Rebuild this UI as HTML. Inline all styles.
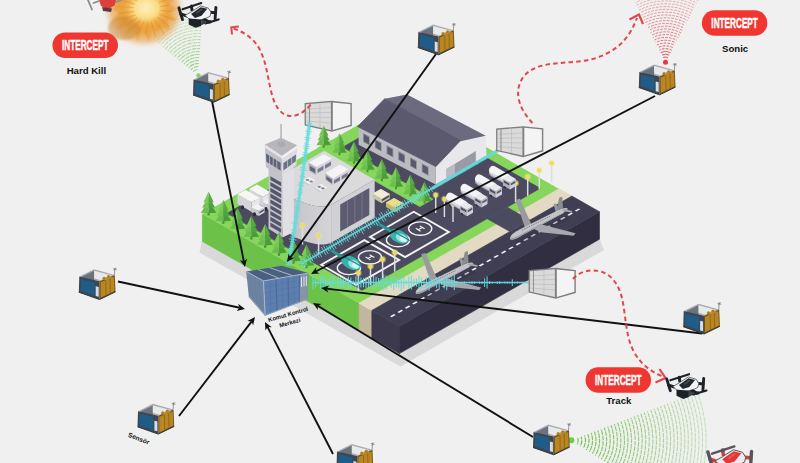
<!DOCTYPE html>
<html><head><meta charset="utf-8"><title>Counter-drone base defence diagram</title>
<style>
html,body{margin:0;padding:0;background:#f0f0f0;}
body{width:800px;height:463px;overflow:hidden;font-family:"Liberation Sans",sans-serif;}
svg{display:block}
text{font-family:"Liberation Sans",sans-serif;}
</style></head><body>
<svg width="800" height="463" viewBox="0 0 800 463">
<rect width="800" height="463" fill="#f0f0f0"/>
<defs>
<g id="tree">
 <rect x="-1" y="-2.5" width="2" height="3.2" fill="#4a8f3a"/>
 <polygon points="-7.3,-2 0,-12.5 0,-1.4" fill="#6cbd4e"/><polygon points="7.3,-2 0,-12.5 0,-1.4" fill="#4b9c39"/>
 <polygon points="-6.1,-6.8 0,-17 0,-6.2" fill="#74c455"/><polygon points="6.1,-6.8 0,-17 0,-6.2" fill="#51a33d"/>
 <polygon points="-4.7,-11.6 0,-21.5 0,-11" fill="#7cca5c"/><polygon points="4.7,-11.6 0,-21.5 0,-11" fill="#57a941"/>
</g>
<g id="lamp">
 <rect x="-0.75" y="-18.5" width="1.5" height="18.5" fill="#dedee2"/>
 <circle cx="0" cy="-19" r="3.3" fill="#f2ea8c" opacity="0.45"/>
 <circle cx="0" cy="-19" r="2.3" fill="#ecdc60"/>
</g>
<g id="sensor">
 <polygon points="0.5,7.4 15.3,0 36,5.8 20.8,12" fill="#a9adb3"/>
 <polygon points="3,7.6 15.3,1.6 15.3,12 8,14" fill="#6c737c"/>
 <polygon points="15.3,1.6 33,6.3 22,11 15.3,9" fill="#e9e9e9"/>
 <polygon points="0.5,7.4 20.8,12 20.8,30.3 0,23" fill="#3c4753"/>
 <polygon points="2.2,10 15.8,13.2 15.8,26.4 2,21.6" fill="#1f5c88"/>
 <polygon points="16.9,17 19.9,17.8 19.9,27.5 16.9,26.7" fill="#d9dde0"/>
 <polygon points="20.8,12 36,5.8 36.7,22.6 20.8,30.3" fill="#6b4f1c"/>
 <polygon points="21.8,13 35.2,7.6 35.8,21.8 21.8,28.6" fill="#b98622"/>
 <path d="M27,11.2 L27.2,26.2 M31.2,9.4 L31.5,24" stroke="#8e6518" stroke-width="0.9" fill="none"/>
 <polygon points="23,10 30,6.8 34,8 27,11" fill="#c2912f"/><circle cx="25.2" cy="9" r="1.5" fill="#b07e24"/><circle cx="29.8" cy="7.3" r="1.6" fill="#b07e24"/>
 <path d="M35.5,6 L36.2,-1.5 M34.2,-0.5 L38,0.6 M35,1.6 L37.4,-1.4" stroke="#7b8088" stroke-width="0.8" fill="none"/>
 <path d="M0,23 L20.8,30.3 L36.7,22.6" stroke="#2e3640" stroke-width="1" fill="none"/>
</g>
<g id="cont">
 <polygon points="0.6,3.1 27.8,0.8 47.8,2.9 47.8,26 27.8,31.8 0.6,25.5" fill="#7f7f7f"/>
 <polygon points="1.9,4.3 26.9,2.3 26.9,30.1 1.9,24.5" fill="#dadada"/>
 <polygon points="28.8,2.4 46.4,4.2 46.4,24.8 28.8,30" fill="#f4f4f4"/>
 <path d="M5.5,4.5 L5.5,25 M2,9 L27,7.6 M2,13 L27,12.4 M2,17 L27,17.6 M2,21 L27,23 M16,3.4 L16,27.5" stroke="#bdbdbd" stroke-width="0.7" fill="none"/>
 <path d="M5.5,4 L5.5,25.4" stroke="#8c8c8c" stroke-width="0.9"/>
</g>
<g id="tanker">
 <path d="M6.2,8.2 L19.5,15.8" stroke="#b4b4c0" stroke-width="8" stroke-linecap="round"/>
 <path d="M6.2,5.6 L19.5,13.2" stroke="#f4f4f7" stroke-width="8.2" stroke-linecap="round"/>
 <path d="M5.2,9.4 L18.5,17" stroke="#d9d9e0" stroke-width="2.2" stroke-linecap="round"/>
 <polygon points="16,14.2 22,10.6 29,14.6 23,18.2" fill="#e8e8ec"/>
 <polygon points="16,14.2 23,18.2 23,25 16,21" fill="#b2b2bc"/>
 <polygon points="23,18.2 29,14.6 29,21.4 23,25" fill="#d0d0d8"/>
 <polygon points="16.8,15.8 22.2,18.9 22.2,21 16.8,17.9" fill="#4d4d62"/>
 <polygon points="23.7,19 28.3,16.3 28.3,18.4 23.7,21.1" fill="#5a5a70"/>
 <polygon points="17,21.4 19,22.5 19,24.2 17,23.1" fill="#2c2a38"/><polygon points="5,13.4 7,14.6 7,16.4 5,15.2" fill="#2c2a38"/>
</g>
<linearGradient id="gcyl" gradientUnits="userSpaceOnUse" x1="278" x2="332" y1="0" y2="0"><stop offset="0" stop-color="#b4b4ba"/><stop offset="0.45" stop-color="#c9c9ce"/><stop offset="1" stop-color="#d4d4d8"/></linearGradient><radialGradient id="gex" cx="0.5" cy="0.5" r="0.5"><stop offset="0" stop-color="#f5bc58"/><stop offset="0.6" stop-color="#eba744" stop-opacity="0.95"/><stop offset="0.82" stop-color="#e9a858" stop-opacity="0.6"/><stop offset="1" stop-color="#f0c89c" stop-opacity="0"/></radialGradient>
<radialGradient id="gex2" cx="0.5" cy="0.5" r="0.5"><stop offset="0" stop-color="#fdf0c0"/><stop offset="0.55" stop-color="#fbdc86"/><stop offset="1" stop-color="#f6b648" stop-opacity="0"/></radialGradient>
<filter id="blur1" x="-20%" y="-20%" width="140%" height="140%"><feGaussianBlur stdDeviation="1.3"/></filter></defs>
<polygon points="202.0,240.0 399.4,353.0 599.5,238.5 604.0,250.0 400.5,366.5 199.5,252.5" fill="#d9d9d9" />
<polygon points="202.3,214.0 359.0,303.2 359.0,330.6 202.3,241.4" fill="#6cc148" stroke="#6cc148" stroke-width="0.6"/>
<polygon points="359.0,303.2 371.8,310.5 371.8,337.9 359.0,330.6" fill="#c2b69c" stroke="#c2b69c" stroke-width="0.6"/>
<polygon points="371.8,310.5 399.4,326.2 399.4,353.6 371.8,337.9" fill="#3b394b" stroke="#3b394b" stroke-width="0.6"/>
<polygon points="399.4,326.2 599.5,211.8 599.5,239.2 399.4,353.6" fill="#302e40" stroke="#302e40" stroke-width="0.6"/>
<polygon points="202.3,214.0 360.0,303.8 560.1,189.4 402.4,99.6" fill="#86d65c" />
<polygon points="227.1,213.3 362.1,290.2 540.2,188.3 405.2,111.5" fill="#4c4a5e" stroke="#4c4a5e" stroke-width="0.7" stroke-linejoin="round"/>
<polygon points="317.4,148.2 419.8,206.6 432.9,199.1 330.4,140.8" fill="#86d65c" stroke="#86d65c" stroke-width="0.7" stroke-linejoin="round"/>
<polygon points="359.0,303.2 371.8,310.5 571.9,196.1 559.1,188.8" fill="#e2dac2" stroke="#e2dac2" stroke-width="0.7" stroke-linejoin="round"/>
<polygon points="371.8,310.5 399.4,326.2 599.5,211.8 571.9,196.1" fill="#403e52" stroke="#403e52" stroke-width="0.7" stroke-linejoin="round"/>
<polygon points="487.2,218.7 509.9,231.6 529.9,220.1 507.2,207.2" fill="#4c4a5e" stroke="#4c4a5e" stroke-width="0.7" stroke-linejoin="round"/>
<polygon points="390.0,316.3 391.6,317.2 395.6,314.9 394.0,314.0" fill="#f2f2f2" />
<polygon points="397.4,312.1 399.0,313.0 403.0,310.7 401.4,309.8" fill="#f2f2f2" />
<polygon points="404.8,307.8 406.4,308.7 410.4,306.4 408.8,305.5" fill="#f2f2f2" />
<polygon points="412.2,303.6 413.7,304.5 417.7,302.2 416.2,301.3" fill="#f2f2f2" />
<polygon points="419.6,299.4 421.1,300.3 425.1,298.0 423.6,297.1" fill="#f2f2f2" />
<polygon points="426.9,295.2 428.5,296.1 432.5,293.8 430.9,292.9" fill="#f2f2f2" />
<polygon points="434.3,290.9 435.9,291.8 439.9,289.5 438.3,288.7" fill="#f2f2f2" />
<polygon points="441.7,286.7 443.3,287.6 447.3,285.3 445.7,284.4" fill="#f2f2f2" />
<polygon points="449.1,282.5 450.7,283.4 454.7,281.1 453.1,280.2" fill="#f2f2f2" />
<polygon points="456.5,278.3 458.1,279.2 462.1,276.9 460.5,276.0" fill="#f2f2f2" />
<polygon points="463.9,274.0 465.5,274.9 469.5,272.7 467.9,271.8" fill="#f2f2f2" />
<polygon points="471.3,269.8 472.8,270.7 476.8,268.4 475.3,267.5" fill="#f2f2f2" />
<polygon points="478.7,265.6 480.2,266.5 484.2,264.2 482.7,263.3" fill="#f2f2f2" />
<polygon points="486.0,261.4 487.6,262.3 491.6,260.0 490.0,259.1" fill="#f2f2f2" />
<polygon points="493.4,257.1 495.0,258.0 499.0,255.8 497.4,254.9" fill="#f2f2f2" />
<polygon points="500.8,252.9 502.4,253.8 506.4,251.5 504.8,250.6" fill="#f2f2f2" />
<polygon points="508.2,248.7 509.8,249.6 513.8,247.3 512.2,246.4" fill="#f2f2f2" />
<polygon points="515.6,244.5 517.2,245.4 521.2,243.1 519.6,242.2" fill="#f2f2f2" />
<polygon points="523.0,240.3 524.6,241.1 528.6,238.9 527.0,238.0" fill="#f2f2f2" />
<polygon points="530.4,236.0 532.0,236.9 536.0,234.6 534.4,233.7" fill="#f2f2f2" />
<polygon points="537.8,231.8 539.3,232.7 543.3,230.4 541.8,229.5" fill="#f2f2f2" />
<polygon points="545.2,227.6 546.7,228.5 550.7,226.2 549.2,225.3" fill="#f2f2f2" />
<polygon points="552.5,223.4 554.1,224.3 558.1,222.0 556.5,221.1" fill="#f2f2f2" />
<polygon points="559.9,219.1 561.5,220.0 565.5,217.7 563.9,216.8" fill="#f2f2f2" />
<polygon points="567.3,214.9 568.9,215.8 572.9,213.5 571.3,212.6" fill="#f2f2f2" />
<polygon points="574.7,210.7 576.3,211.6 580.3,209.3 578.7,208.4" fill="#f2f2f2" />
<use href="#cont" x="304" y="100"/>
<polygon points="358.6,126.0 435.7,165.7 435.7,184.6 358.6,144.8" fill="#bbbbc2" />
<polygon points="363.0,133.0 369.8,136.5 369.8,145.5 363.0,142.0" fill="#8e8e9c" />
<polygon points="363.9,134.3 369.0,137.5 369.0,144.5 363.9,141.3" fill="#58586e" />
<polygon points="374.8,139.0 381.6,142.5 381.6,151.5 374.8,148.0" fill="#8e8e9c" />
<polygon points="375.6,140.3 380.8,143.5 380.8,150.5 375.6,147.3" fill="#58586e" />
<polygon points="386.5,145.1 393.3,148.6 393.3,157.6 386.5,154.1" fill="#8e8e9c" />
<polygon points="387.4,146.4 392.5,149.6 392.5,156.6 387.4,153.4" fill="#58586e" />
<polygon points="398.2,151.1 405.1,154.6 405.1,163.6 398.2,160.1" fill="#8e8e9c" />
<polygon points="399.1,152.4 404.2,155.6 404.2,162.6 399.1,159.4" fill="#58586e" />
<polygon points="410.0,157.2 416.8,160.7 416.8,169.7 410.0,166.2" fill="#8e8e9c" />
<polygon points="410.9,158.5 416.0,161.7 416.0,168.7 410.9,165.5" fill="#58586e" />
<polygon points="421.8,163.2 428.6,166.7 428.6,175.7 421.8,172.2" fill="#8e8e9c" />
<polygon points="422.6,164.5 427.8,167.7 427.8,174.7 422.6,171.5" fill="#58586e" />
<polygon points="435.7,165.7 460.5,140.2 485.6,136.4 486.6,156.0 435.7,184.6" fill="#e7e7ec" />
<polygon points="446.5,169.0 475.8,151.0 475.8,161.8 446.5,179.0" fill="#9a9aa4" />
<polygon points="446.5,169.0 455.0,164.0 455.0,174.0 446.5,179.0" fill="#b9b9c2" />
<polygon points="384.7,98.7 407.0,94.6 485.8,135.8 460.5,141.2" fill="#6b6a7e" />
<polygon points="357.6,126.6 384.7,98.7 460.5,140.6 435.9,166.6" fill="#5a596d" stroke="#5a596d" stroke-width="0.8"/>
<use href="#tree" transform="translate(323.7,147.0) scale(1.0)"/>
<use href="#tree" transform="translate(339.5,154.5) scale(1.0)"/>
<use href="#tree" transform="translate(353.9,163.0) scale(1.0)"/>
<use href="#tree" transform="translate(367.5,171.5) scale(1.0)"/>
<use href="#tree" transform="translate(381.8,180.5) scale(1.0)"/>
<use href="#tree" transform="translate(396.0,188.5) scale(1.0)"/>
<use href="#tree" transform="translate(410.3,196.0) scale(1.0)"/>
<use href="#tree" transform="translate(424.5,203.0) scale(1.0)"/>
<polygon points="249.0,189.0 263.0,197.0 263.0,206.5 249.0,198.5" fill="#d4d4da" /><polygon points="249.0,189.0 257.0,184.5 271.0,192.5 263.0,197.0" fill="#f6f6f6" /><polygon points="263.0,197.0 271.0,192.5 271.0,202.0 263.0,206.5" fill="#e6e6ea" /><polygon points="263.0,202.0 270.0,205.7 270.0,210.6 263.0,207.0" fill="#c9c9cf" /><polygon points="263.0,202.0 269.0,198.4 276.0,202.2 270.0,205.7" fill="#f2f2f2" /><polygon points="270.0,205.7 276.0,202.2 276.0,207.2 270.0,210.6" fill="#e2e2e6" /><polygon points="270.8,206.4 275.4,203.7 275.4,205.8 270.8,208.5" fill="#50506a" /><ellipse cx="254" cy="202" rx="1.5" ry="2" fill="#2c2a38"/><ellipse cx="266" cy="209" rx="1.5" ry="2" fill="#2c2a38"/>
<polygon points="237.5,194.3 251.5,202.3 251.5,211.8 237.5,203.8" fill="#d4d4da" /><polygon points="237.5,194.3 245.5,189.8 259.5,197.8 251.5,202.3" fill="#f6f6f6" /><polygon points="251.5,202.3 259.5,197.8 259.5,207.3 251.5,211.8" fill="#e6e6ea" /><polygon points="251.5,207.3 258.5,211.0 258.5,215.9 251.5,212.3" fill="#c9c9cf" /><polygon points="251.5,207.3 257.5,203.7 264.5,207.5 258.5,211.0" fill="#f2f2f2" /><polygon points="258.5,211.0 264.5,207.5 264.5,212.5 258.5,215.9" fill="#e2e2e6" /><polygon points="259.3,211.7 263.9,209.0 263.9,211.1 259.3,213.8" fill="#50506a" /><ellipse cx="242.5" cy="207.3" rx="1.5" ry="2" fill="#2c2a38"/><ellipse cx="254.5" cy="214.3" rx="1.5" ry="2" fill="#2c2a38"/>
<polygon points="331.9,204.3 330.2,205.2 328.1,205.8 325.9,206.2 323.3,206.4 320.6,206.4 317.7,206.2 314.6,205.7 311.5,205.1 308.3,204.3 305.0,203.3 301.8,202.1 298.7,200.8 295.6,199.4 292.7,197.8 290.0,196.1 287.4,194.4 285.1,192.5 283.1,190.7 281.4,188.8 280.0,187.0 278.9,185.2 278.2,183.4 277.8,181.8 277.8,180.2 278.2,178.7 278.9,177.4 280.0,176.3 281.4,175.3 281.4,213.3 280.0,214.3 278.9,215.4 278.2,216.7 277.8,218.2 277.8,219.8 278.2,221.4 278.9,223.2 280.0,225.0 281.4,226.8 283.1,228.7 285.1,230.5 287.4,232.4 290.0,234.1 292.7,235.8 295.6,237.4 298.7,238.8 301.8,240.1 305.0,241.3 308.3,242.3 311.5,243.1 314.6,243.7 317.7,244.2 320.6,244.4 323.3,244.4 325.9,244.2 328.1,243.8 330.2,243.2 331.9,242.3" fill="url(#gcyl)"/>
<polygon points="331.9,204.3 374.7,179.8 374.7,217.8 331.9,242.3" fill="#d0d0d5" />
<polygon points="340.2,204.6 369.3,187.9 369.3,214.9 340.2,231.6" fill="#5c5b70" />
<line x1="347.5" y1="200.4" x2="347.5" y2="227.4" stroke="#7c7b8e" stroke-width="0.8"/>
<line x1="354.8" y1="196.2" x2="354.8" y2="223.2" stroke="#7c7b8e" stroke-width="0.8"/>
<line x1="362.0" y1="192.1" x2="362.0" y2="219.1" stroke="#7c7b8e" stroke-width="0.8"/>
<polygon points="324.2,150.8 374.7,179.8 331.9,204.3 330.2,205.2 328.1,205.8 325.9,206.2 323.3,206.4 320.6,206.4 317.7,206.2 314.6,205.7 311.5,205.1 308.3,204.3 305.0,203.3 301.8,202.1 298.7,200.8 295.6,199.4 292.7,197.8 290.0,196.1 287.4,194.4 285.1,192.5 283.1,190.7 281.4,188.8 280.0,187.0 278.9,185.2 278.2,183.4 277.8,181.8 277.8,180.2 278.2,178.7 278.9,177.4 280.0,176.3 281.4,175.3" fill="#dadadd"/>
<polygon points="308.7,162.5 316.3,167.0 316.3,175.3 308.7,170.8" fill="#b4b4bc" />
<polygon points="316.3,167.0 332.1,158.4 332.1,166.3 316.3,175.3" fill="#d4d4da" />
<polygon points="308.7,162.5 323.8,154.2 332.1,158.4 316.3,167.0" fill="#f4f4f6" />
<polygon points="309.8,165.8 315.2,168.9 315.2,173.2 309.8,170.0" fill="#62627a" />
<polygon points="317.5,169.2 323.5,165.8 323.5,169.6 317.5,173.0" fill="#7a7a8c" />
<polygon points="325.0,164.9 331.0,161.5 331.0,165.3 325.0,168.7" fill="#7a7a8c" />
<polygon points="325.3,173.0 332.9,178.4 332.9,185.2 325.3,179.8" fill="#b4b4bc" />
<polygon points="332.9,178.4 348.8,169.3 348.8,176.1 332.9,185.2" fill="#d4d4da" />
<polygon points="325.3,173.0 339.7,164.8 348.8,169.3 332.9,178.4" fill="#f4f4f6" />
<polygon points="326.4,176.0 331.8,179.8 331.8,183.4 326.4,179.6" fill="#62627a" />
<polygon points="334.0,180.2 340.0,176.8 340.0,180.4 334.0,183.8" fill="#7a7a8c" />
<polygon points="341.7,175.9 347.7,172.5 347.7,176.1 341.7,179.5" fill="#7a7a8c" />
<polygon points="303.1,180.6 309.1,177.0 315.5,180.6 309.1,184.4" fill="#f1f1f3" />
<polygon points="303.1,180.6 309.1,184.4 309.1,185.6 303.1,181.8" fill="#c2c2c8" />
<polygon points="309.1,184.4 315.5,180.6 315.5,181.8 309.1,185.6" fill="#d8d8dd" />
<ellipse cx="307.5" cy="180.0" rx="1.8" ry="1.1" fill="#85858f"/><ellipse cx="311.1" cy="181.5" rx="1.8" ry="1.1" fill="#85858f"/>
<polygon points="314.8,187.4 320.8,183.8 327.2,187.4 320.8,191.2" fill="#f1f1f3" />
<polygon points="314.8,187.4 320.8,191.2 320.8,192.4 314.8,188.6" fill="#c2c2c8" />
<polygon points="320.8,191.2 327.2,187.4 327.2,188.6 320.8,192.4" fill="#d8d8dd" />
<ellipse cx="319.2" cy="186.8" rx="1.8" ry="1.1" fill="#85858f"/><ellipse cx="322.8" cy="188.3" rx="1.8" ry="1.1" fill="#85858f"/>
<polygon points="268.5,166.0 282.5,174.0 282.5,237.5 268.5,228.7" fill="#c3c3c9" />
<polygon points="282.5,174.0 293.8,167.5 293.8,232.0 282.5,237.5" fill="#e0e0e4" />
<polygon points="270.4,176.2 281.2,182.4 281.2,186.3 270.4,180.1" fill="#55556b" />
<polygon points="270.4,182.0 281.2,188.2 281.2,192.1 270.4,185.9" fill="#55556b" />
<polygon points="270.4,187.8 281.2,194.0 281.2,197.9 270.4,191.7" fill="#55556b" />
<polygon points="270.4,193.6 281.2,199.8 281.2,203.7 270.4,197.5" fill="#55556b" />
<polygon points="270.4,199.4 281.2,205.6 281.2,209.5 270.4,203.3" fill="#55556b" />
<polygon points="270.4,205.2 281.2,211.4 281.2,215.3 270.4,209.1" fill="#55556b" />
<polygon points="270.4,211.0 281.2,217.2 281.2,221.1 270.4,214.9" fill="#55556b" />
<polygon points="270.4,216.8 281.2,223.0 281.2,226.9 270.4,220.7" fill="#55556b" />
<polygon points="270.4,222.6 281.2,228.8 281.2,232.7 270.4,226.5" fill="#55556b" />
<polygon points="264.8,145.2 282.0,156.6 282.0,176.0 265.9,167.2" fill="#c1c1c7" />
<polygon points="282.0,156.6 297.2,146.0 296.6,165.0 282.0,176.0" fill="#dcdce1" />
<polygon points="266.0,153.6 280.6,162.8 280.6,170.6 266.4,161.8" fill="#5e6478" />
<polygon points="283.4,163.0 296.0,154.4 295.8,161.2 283.4,170.4" fill="#6d7388" />
<path d="M269.6,155.8 v8.2 M273.2,158 v8.2 M276.8,160.3 v8.2 M287.5,160.2 v7.2 M291.7,157.3 v7.2" stroke="#c1c1c7" stroke-width="0.8"/>
<polygon points="264.8,144.5 282.0,155.8 282.0,158.8 264.8,147.5" fill="#e4e4e8" />
<polygon points="282.0,155.8 297.2,145.2 297.2,148.2 282.0,158.8" fill="#f0f0f3" />
<polygon points="264.8,144.5 281.0,137.7 297.2,145.2 282.0,155.8" fill="#b7b7bb" />
<polygon points="277.6,142.6 281.4,140.8 285.2,142.6 285.2,145.4 281.4,147.4 277.6,145.4" fill="#a9a9ae" />
<rect x="280.3" y="124" width="1.5" height="19" fill="#b2b2b8"/>
<polygon points="372.8,193.5 380.8,188.9 389.8,194.0 389.8,198.5 381.8,203.3 372.8,198.0" fill="#c9c4a6" />
<polygon points="372.8,193.5 380.8,188.9 389.8,194.0 381.8,198.7" fill="#f0ecd2" />
<polygon points="381.8,199.3 389.2,195.0 389.2,197.1 381.8,201.5" fill="#4c4c60" />
<polygon points="386.0,202.5 394.0,197.9 403.0,203.0 403.0,207.5 395.0,212.3 386.0,207.0" fill="#c4b66a" />
<polygon points="386.0,202.5 394.0,197.9 403.0,203.0 395.0,207.7" fill="#e9dc8c" />
<polygon points="395.0,208.3 402.4,204.0 402.4,206.1 395.0,210.5" fill="#4c4c60" />
<polygon points="370.0,236.9 405.1,257.1 448.8,232.0 413.8,211.8" fill="none" stroke="#f4f4f4" stroke-width="1.9" stroke-linejoin="miter"/>
<polygon points="321.3,264.8 355.9,284.8 399.1,260.0 364.4,240.1" fill="none" stroke="#f4f4f4" stroke-width="1.9" stroke-linejoin="miter"/>
<ellipse cx="420.2" cy="228.6" rx="11.6" ry="6.7" fill="none" stroke="#f4f4f4" stroke-width="1.4"/>
<path d="M415.8,228.35 l4.8,2.8 M419.8,226.04999999999998 l4.8,2.8 M418.2,229.75 l4,-2.3" stroke="#f4f4f4" stroke-width="1.2" fill="none"/>
<ellipse cx="398" cy="240" rx="11.6" ry="6.7" fill="none" stroke="#f4f4f4" stroke-width="1.4"/>
<ellipse cx="370" cy="257.3" rx="11.6" ry="6.7" fill="none" stroke="#f4f4f4" stroke-width="1.4"/>
<path d="M365.6,257.05 l4.8,2.8 M369.6,254.75 l4.8,2.8 M368,258.45 l4,-2.3" stroke="#f4f4f4" stroke-width="1.2" fill="none"/>
<ellipse cx="348.9" cy="267.9" rx="11.6" ry="6.7" fill="none" stroke="#f4f4f4" stroke-width="1.4"/>
<path d="M378.7,222.4 L392.7,230.4 L391.7,233.4 L377.7,224.9 Z" fill="#2b9a96"/>
<path d="M376.2,220.4 l3.5,1.2 l-0.5,4.5 l-3,-1.4 Z" fill="#1d7f7c"/>
<ellipse cx="398.7" cy="236.4" rx="10.5" ry="6.2" transform="rotate(28 398.7 236.4)" fill="#36b3ad"/>
<ellipse cx="401.7" cy="238.0" rx="6.3" ry="4" transform="rotate(28 401.7 238.0)" fill="#9fe3e0"/>
<ellipse cx="403.2" cy="239.20000000000002" rx="3.6" ry="2.2" transform="rotate(28 403.2 239.20000000000002)" fill="#d6f5f3"/>
<path d="M385.7,226.9 L409.7,240.4" stroke="#1f8a86" stroke-width="1.1"/>
<path d="M331,248.8 L345,256.8 L344,259.8 L330,251.3 Z" fill="#2b9a96"/>
<path d="M328.5,246.8 l3.5,1.2 l-0.5,4.5 l-3,-1.4 Z" fill="#1d7f7c"/>
<ellipse cx="351" cy="262.8" rx="10.5" ry="6.2" transform="rotate(28 351 262.8)" fill="#36b3ad"/>
<ellipse cx="354" cy="264.40000000000003" rx="6.3" ry="4" transform="rotate(28 354 264.40000000000003)" fill="#9fe3e0"/>
<ellipse cx="355.5" cy="265.6" rx="3.6" ry="2.2" transform="rotate(28 355.5 265.6)" fill="#d6f5f3"/>
<path d="M338,253.3 L362,266.8" stroke="#1f8a86" stroke-width="1.1"/>
<use href="#lamp" transform="translate(302.5,244.5) scale(1.0)"/>
<use href="#lamp" transform="translate(318.6,254.5) scale(1.0)"/>
<use href="#lamp" transform="translate(358.4,292.0) scale(1.0)"/>
<use href="#lamp" transform="translate(370.5,285.2) scale(1.0)"/>
<use href="#lamp" transform="translate(382.6,278.4) scale(1.0)"/>
<use href="#lamp" transform="translate(394.7,271.6) scale(1.0)"/>
<use href="#lamp" transform="translate(435.7,213.0) scale(0.95)"/>
<use href="#lamp" transform="translate(444.4,217.0) scale(0.95)"/>
<use href="#lamp" transform="translate(453.0,222.0) scale(0.95)"/>
<use href="#lamp" transform="translate(515.6,202.2) scale(1.0)"/>
<use href="#lamp" transform="translate(527.7,195.8) scale(1.0)"/>
<use href="#lamp" transform="translate(539.3,189.2) scale(1.0)"/>
<use href="#lamp" transform="translate(551.6,182.2) scale(1.0)"/>
<use href="#tanker" x="487" y="164.5"/>
<use href="#tanker" x="473" y="173"/>
<use href="#tanker" x="458.5" y="182.5"/>
<use href="#tanker" x="444" y="191.3"/>
<g transform="translate(510,238.3) scale(1.0)"><path d="M4,3 L56,-23 L60,-20 L10,5 Z" fill="#2a2838" opacity="0.25"/><polygon points="15.5,-9 22,-12.5 10,-39.5 5.6,-38.6" fill="#9a9aa1"/><polygon points="46,-25.5 49.5,-27.2 46,-35 43.6,-34" fill="#9a9aa1"/><path d="M0,0.5 C0,-3 4,-6 10,-9 L48,-28 C52,-30 56,-31 58,-29.5 L53,-25 L13,-3.5 C7,-0.3 0.6,3 0,0.5 Z" fill="#c3c4c8"/><path d="M1,1.4 C4,2 9,-0.6 13,-3.5 L53,-25 L54.5,-26.3 L14,-5.6 C9,-2.6 4,-0.2 1,-0.6 Z" fill="#9d9ea5"/><polygon points="46.5,-27.2 53,-30.4 52.2,-41.5 49.2,-40.5" fill="#8b8b93"/><polygon points="22.5,-10 30,-14.4 65.5,-5 63.5,-2.6 31,-6" fill="#a7a7ae"/><polygon points="51,-27.5 54.6,-29.3 62.5,-27 61.5,-25.8" fill="#a7a7ae"/><path d="M12,-8 L40,-22" stroke="#5a5a66" stroke-width="0.8" stroke-dasharray="1,1"/></g>
<g transform="translate(415.6,292.6) scale(1.0)"><path d="M4,3 L56,-23 L60,-20 L10,5 Z" fill="#2a2838" opacity="0.25"/><polygon points="15.5,-9 22,-12.5 10,-39.5 5.6,-38.6" fill="#9a9aa1"/><polygon points="46,-25.5 49.5,-27.2 46,-35 43.6,-34" fill="#9a9aa1"/><path d="M0,0.5 C0,-3 4,-6 10,-9 L48,-28 C52,-30 56,-31 58,-29.5 L53,-25 L13,-3.5 C7,-0.3 0.6,3 0,0.5 Z" fill="#c3c4c8"/><path d="M1,1.4 C4,2 9,-0.6 13,-3.5 L53,-25 L54.5,-26.3 L14,-5.6 C9,-2.6 4,-0.2 1,-0.6 Z" fill="#9d9ea5"/><polygon points="46.5,-27.2 53,-30.4 52.2,-41.5 49.2,-40.5" fill="#8b8b93"/><polygon points="22.5,-10 30,-14.4 65.5,-5 63.5,-2.6 31,-6" fill="#a7a7ae"/><polygon points="51,-27.5 54.6,-29.3 62.5,-27 61.5,-25.8" fill="#a7a7ae"/><path d="M12,-8 L40,-22" stroke="#5a5a66" stroke-width="0.8" stroke-dasharray="1,1"/></g>
<use href="#tree" transform="translate(208.6,214.8) scale(1.08)"/>
<use href="#tree" transform="translate(223.4,223.0) scale(1.08)"/>
<use href="#tree" transform="translate(237.6,231.0) scale(1.08)"/>
<use href="#tree" transform="translate(251.4,238.8) scale(1.08)"/>
<use href="#tree" transform="translate(265.2,247.0) scale(1.08)"/>
<use href="#tree" transform="translate(279.0,255.0) scale(1.08)"/>
<use href="#tree" transform="translate(293.5,263.0) scale(1.08)"/>
<use href="#tree" transform="translate(306.5,267.5) scale(1.08)"/>
<path d="M309.6,123 Q301,190 288.5,265" stroke="#63dcdc" stroke-width="3.0" fill="none" opacity="0.82"/>
<path d="M312.1,123.3L307.1,122.7M313.1,125.6L305.6,124.6M311.0,127.5L307.1,126.9M310.9,129.6L306.7,129.0M311.9,131.8L305.1,131.0M310.9,133.9L305.6,133.2M309.3,135.8L306.6,135.5M311.1,138.2L304.3,137.3M310.0,140.2L304.7,139.5M308.7,142.2L305.6,141.8M309.4,144.5L304.2,143.8M309.8,146.7L303.3,145.8M309.2,148.8L303.3,148.0M307.2,150.7L304.7,150.4M308.6,153.1L302.7,152.3M308.9,155.3L301.8,154.4M306.7,157.2L303.4,156.8M307.5,159.5L302.0,158.8M308.5,161.9L300.5,160.8M306.3,163.8L302.0,163.2M305.1,165.8L302.6,165.5M306.7,168.3L300.4,167.4M307.1,170.6L299.4,169.5M304.6,172.4L301.3,172.0M304.7,174.7L300.5,174.1M305.5,177.0L299.0,176.1M304.1,179.1L299.9,178.5M303.0,181.2L300.3,180.8M304.3,183.6L298.3,182.7M304.2,185.8L297.8,184.9M302.2,187.8L299.1,187.3M302.5,190.1L298.2,189.5M303.0,192.4L297.1,191.6M302.2,194.6L297.2,193.8M300.8,196.7L298.0,196.2M301.5,199.0L296.6,198.3M302.4,201.5L295.0,200.4M300.0,203.4L296.7,202.9M300.6,205.8L295.4,205.0M300.6,208.1L294.8,207.2M300.4,210.3L294.3,209.4M298.6,212.4L295.4,211.9M299.2,214.8L294.0,214.0M299.2,217.1L293.4,216.2M297.6,219.2L294.3,218.6M298.2,221.6L292.9,220.8M299.3,224.1L291.2,222.8M297.3,226.1L292.4,225.3M296.2,228.3L292.9,227.7M297.5,230.8L290.8,229.7M296.6,233.0L290.9,232.1M295.0,235.1L291.8,234.6M295.9,237.6L290.2,236.7M296.6,240.1L288.8,238.8M294.8,242.2L289.8,241.4M293.5,244.3L290.3,243.8M294.1,246.8L289.1,246.0M294.0,249.1L288.4,248.2M292.4,251.3L289.2,250.7M292.9,253.7L288.0,252.9M292.9,256.1L287.2,255.2M292.2,258.4L287.2,257.6M291.0,260.6L287.6,260.0M292.3,263.2L285.5,262.1M291.4,265.5L285.6,264.5" stroke="#63dcdc" stroke-width="1.0" fill="none" opacity="0.82"/>
<path d="M497,151 L432,188.5" stroke="#63dcdc" stroke-width="3.2" opacity="0.8"/>
<path d="M497,151 L301,264" stroke="#63dcdc" stroke-width="1.5" fill="none" opacity="0.9"/>
<path d="M498.0,152.7L496.0,149.3M495.4,153.0L494.5,151.4M493.4,154.3L492.3,152.4M491.5,155.8L490.1,153.3M489.5,157.1L488.0,154.5M487.1,157.7L486.3,156.2M485.5,159.7L483.7,156.6M483.3,160.6L481.8,158.0M480.9,161.2L480.1,159.8M479.1,162.9L477.7,160.5M477.3,164.5L475.4,161.3M474.9,165.1L473.7,163.1M472.7,166.0L471.8,164.6M471.0,167.8L469.4,165.1M469.0,169.2L467.2,166.1M466.5,169.6L465.6,168.1M464.8,171.4L463.2,168.7M462.8,172.8L461.0,169.6M460.5,173.5L459.2,171.3M458.2,174.3L457.4,172.9M456.4,175.9L455.1,173.6M454.3,177.1L453.0,174.9M452.0,177.8L451.2,176.5M450.2,179.4L448.9,177.3M448.3,181.0L446.6,178.1M446.2,182.0L444.7,179.5M443.8,182.7L442.9,181.2M442.2,184.6L440.4,181.6M440.0,185.6L438.5,183.1M437.5,186.1L436.8,184.9M435.7,187.8L434.5,185.6M433.8,189.2L432.3,186.6M432.6,191.8L429.4,186.3M430.2,192.4L427.7,188.1M429.1,195.4L424.6,187.5M426.5,195.7L423.0,189.6M423.7,195.5L421.7,192.1M422.6,198.4L418.7,191.6M421.1,200.5L416.1,191.9M418.3,200.5L414.7,194.3M415.7,200.7L413.2,196.5M414.8,203.9L410.0,195.6M412.2,204.2L408.5,197.7M409.3,203.8L407.3,200.5M408.3,206.9L404.1,199.7M406.0,207.8L402.3,201.3M403.8,208.6L400.4,202.8M401.3,209.1L398.8,204.8M400.1,211.7L395.9,204.5M397.9,212.8L393.9,205.8M394.7,212.0L393.0,209.0M393.9,215.3L389.7,208.1M391.9,216.7L387.5,209.0M389.4,217.0L386.0,211.1M386.7,217.2L384.4,213.2M386.0,220.8L381.0,212.1M383.8,221.7L379.1,213.6M380.2,220.3L378.6,217.3M379.2,223.2L375.5,216.8M377.9,225.8L372.6,216.6M374.8,225.2L371.6,219.6M372.4,225.7L369.9,221.5M371.0,228.0L367.2,221.5M368.8,229.1L365.2,222.8M365.8,228.6L364.1,225.7M364.5,231.0L361.3,225.6M363.5,234.1L358.2,224.9M360.1,233.0L357.4,228.4M358.1,234.3L355.3,229.5M356.6,236.5L352.7,229.6M354.9,238.3L350.2,230.2M351.3,236.9L349.7,234.0M350.3,239.8L346.6,233.5M348.6,241.7L344.2,234.0M345.9,241.7L342.8,236.4M343.6,242.5L341.0,238.0M342.2,244.8L338.2,238.0M339.8,245.5L336.4,239.6M336.8,245.1L335.3,242.4M336.2,248.7L331.8,241.2M334.3,250.2L329.6,242.1M331.1,249.5L328.7,245.2M329.2,251.0L326.4,246.1M328.2,253.9L323.4,245.6M326.0,254.9L321.4,247.0M322.4,253.4L320.9,250.8M321.6,256.8L317.5,249.7M319.3,257.5L315.7,251.4M316.9,258.2L314.0,253.1M314.6,259.0L312.2,254.7M313.2,261.4L309.4,254.7M311.5,263.1L307.0,255.4M307.9,261.7L306.5,259.2M307.0,264.9L303.2,258.3M305.6,267.2L300.5,258.4M302.3,266.2L299.7,261.8" stroke="#63dcdc" stroke-width="1.0" fill="none" opacity="0.9"/>
<path d="M530,282.6 L313,282.6" stroke="#63dcdc" stroke-width="1.5" fill="none" opacity="0.9"/>
<path d="M530.0,283.1L530.0,282.1M527.5,283.6L527.5,281.6M525.0,283.8L525.0,281.4M522.4,283.5L522.4,281.7M519.9,283.3L519.9,281.9M517.4,283.6L517.4,281.6M514.9,283.5L514.9,281.7M512.3,285.9L512.3,279.3M509.8,283.5L509.8,281.7M507.3,283.7L507.3,281.5M504.8,283.6L504.8,281.6M502.2,283.3L502.2,281.9M499.7,284.0L499.7,281.2M497.2,283.7L497.2,281.5M494.7,283.1L494.7,282.1M492.2,283.5L492.2,281.7M489.6,283.9L489.6,281.3M487.1,288.6L487.1,276.6M484.6,287.0L484.6,278.2M482.1,283.9L482.1,281.3M479.5,283.8L479.5,281.4M477.0,283.0L477.0,282.2M474.5,283.7L474.5,281.5M472.0,283.9L472.0,281.3M469.4,283.4L469.4,281.8M466.9,283.2L466.9,282.0M464.4,284.0L464.4,281.2M461.9,283.7L461.9,281.5M459.3,283.1L459.3,282.1M456.8,283.8L456.8,281.4M454.3,290.1L454.3,275.1M451.8,287.7L451.8,277.5M449.3,286.4L449.3,278.8M446.7,290.2L446.7,275.0M444.2,288.5L444.2,276.7M441.7,285.1L441.7,280.1M439.2,289.2L439.2,276.0M436.6,288.2L436.6,277.0M434.1,286.5L434.1,278.7M431.6,286.2L431.6,279.0M429.1,290.8L429.1,274.4M426.5,288.4L426.5,276.8M424.0,284.9L424.0,280.3M421.5,287.9L421.5,277.3M419.0,289.4L419.0,275.8M416.5,286.8L416.5,278.4M413.9,286.5L413.9,278.7M411.4,289.6L411.4,275.6M408.9,288.8L408.9,276.4M406.4,284.9L406.4,280.3M403.8,288.8L403.8,276.4M401.3,290.7L401.3,274.5M398.8,287.4L398.8,277.8M396.3,287.4L396.3,277.8M393.7,289.9L393.7,275.3M391.2,287.6L391.2,277.6M388.7,284.8L388.7,280.4M386.2,289.6L386.2,275.6M383.7,290.6L383.7,274.6M381.1,286.9L381.1,278.3M378.6,287.1L378.6,278.1M376.1,288.5L376.1,276.7M373.6,289.3L373.6,275.9M371.0,284.8L371.0,280.4M368.5,288.0L368.5,277.2M366.0,288.0L366.0,277.2M363.5,287.2L363.5,278.0M360.9,287.6L360.9,277.6M358.4,288.1L358.4,277.1M355.9,289.1L355.9,276.1M353.4,284.8L353.4,280.4M350.8,287.7L350.8,277.5M348.3,288.7L348.3,276.5M345.8,287.0L345.8,278.2M343.3,287.5L343.3,277.7M340.8,288.0L340.8,277.2M338.2,288.6L338.2,276.6M335.7,284.9L335.7,280.3M333.2,289.2L333.2,276.0M330.7,288.8L330.7,276.4M328.1,287.0L328.1,278.2M325.6,287.8L325.6,277.4M323.1,289.5L323.1,275.7M320.6,289.5L320.6,275.7M318.0,285.0L318.0,280.2M315.5,287.5L315.5,277.7M313.0,289.6L313.0,275.6" stroke="#63dcdc" stroke-width="1.1" fill="none" opacity="0.9"/>
<polygon points="246.2,271.4 263.5,280.9 265.2,315.4 248.8,296.4" fill="#6d83a2" />
<polygon points="263.5,280.9 308.4,273.1 307.5,299.0 265.2,315.4" fill="#5d7fae" />
<polygon points="299.6,274.6 308.4,273.1 307.5,299.0 299.2,302.2" fill="#8793a6" />
<polygon points="246.2,271.4 281.6,265.7 308.4,273.1 263.5,280.9" fill="#4a607f" />
<path d="M258,269.5 L278,277.8 M269.5,267.6 L292.5,275.6 M246.2,271.4 L263.5,280.9 L308.4,273.1 M263.5,280.9 L265.2,315.4" stroke="#a9b8cc" stroke-width="1" fill="none"/>
<path d="M276,279.5 L277,310.5 M288,277.4 L288.5,306.3 M299.6,275.4 L299.2,302.2" stroke="#46659a" stroke-width="0.9" fill="none"/>
<path d="M264,287 L299.5,280.5 M264.4,293 L299.4,286.3 M264.7,299 L299.4,292 M265,305 L299.3,297.5 M270,280.5 L271,313 M282,278.5 L282.8,308.5 M294,276.4 L294,304.3" stroke="#4f72a4" stroke-width="0.6" fill="none" opacity="0.8"/>
<path d="M250.5,275.5 L252.5,300 M255,278 L257,305.5 M259.5,280.5 L261,310.5" stroke="#637a99" stroke-width="0.6" fill="none" opacity="0.8"/>
<path d="M301.5,277 L301.5,287 M304,276.6 L304,286.4 M306.3,276.2 L306.3,285.8" stroke="#dfe5ee" stroke-width="1" fill="none"/>
<path d="M248.8,296.4 L265.2,315.4 L307.5,299" stroke="#8e9db3" stroke-width="1.2" fill="none"/>
<line x1="212" y1="101" x2="243.9" y2="261.6" stroke="#111" stroke-width="1.9"/>
<polygon points="245.0,267.0 239.9,260.1 243.9,261.5 247.0,258.6" fill="#111" />
<line x1="436" y1="54" x2="290.2" y2="257.6" stroke="#111" stroke-width="1.9"/>
<polygon points="287.0,262.0 288.6,253.6 290.3,257.4 294.5,257.8" fill="#111" />
<line x1="655" y1="96" x2="315.8" y2="271.5" stroke="#111" stroke-width="1.9"/>
<polygon points="311.0,274.0 316.3,267.2 316.0,271.4 319.6,273.6" fill="#111" />
<line x1="118" y1="281.5" x2="239.7" y2="307.8" stroke="#111" stroke-width="1.9"/>
<polygon points="245.0,309.0 236.6,310.9 239.5,307.8 238.1,303.8" fill="#111" />
<line x1="179" y1="416" x2="251.7" y2="321.3" stroke="#111" stroke-width="1.9"/>
<polygon points="255.0,317.0 253.1,325.4 251.6,321.5 247.4,321.0" fill="#111" />
<line x1="333" y1="454" x2="267.5" y2="326.9" stroke="#111" stroke-width="1.9"/>
<polygon points="265.0,322.0 271.8,327.3 267.6,327.0 265.4,330.6" fill="#111" />
<line x1="702" y1="333.5" x2="326.4" y2="288.6" stroke="#111" stroke-width="1.9"/>
<polygon points="321.0,288.0 329.2,285.4 326.6,288.7 328.3,292.5" fill="#111" />
<line x1="533" y1="437" x2="317.7" y2="305.8" stroke="#111" stroke-width="1.9"/>
<polygon points="313.0,303.0 321.5,304.0 317.8,305.9 317.8,310.1" fill="#111" />
<path d="M193.3,71.7 A6.0,6.0 0 0 1 198.4,69.5" stroke="#7cc85a" stroke-width="1.1" stroke-dasharray="4.6,0.8" stroke-dashoffset="0.0" fill="none" opacity="0.80"/>
<path d="M191.0,69.8 A9.0,9.0 0 0 1 198.6,66.5" stroke="#7cc85a" stroke-width="1.1" stroke-dasharray="4.6,0.8" stroke-dashoffset="1.7" fill="none" opacity="0.77"/>
<path d="M188.7,67.9 A12.0,12.0 0 0 1 198.8,63.5" stroke="#7cc85a" stroke-width="1.1" stroke-dasharray="4.6,0.8" stroke-dashoffset="3.4" fill="none" opacity="0.74"/>
<path d="M186.3,66.1 A15.0,15.0 0 0 1 199.0,60.5" stroke="#7cc85a" stroke-width="1.1" stroke-dasharray="4.6,0.8" stroke-dashoffset="1.1" fill="none" opacity="0.71"/>
<path d="M184.0,64.2 A18.0,18.0 0 0 1 199.3,57.5" stroke="#7cc85a" stroke-width="1.1" stroke-dasharray="4.6,0.8" stroke-dashoffset="2.8" fill="none" opacity="0.68"/>
<path d="M181.7,62.3 A21.0,21.0 0 0 1 199.5,54.6" stroke="#7cc85a" stroke-width="1.1" stroke-dasharray="4.6,0.8" stroke-dashoffset="0.5" fill="none" opacity="0.65"/>
<path d="M179.3,60.4 A24.0,24.0 0 0 1 199.7,51.6" stroke="#7cc85a" stroke-width="1.1" stroke-dasharray="4.6,0.8" stroke-dashoffset="2.2" fill="none" opacity="0.62"/>
<path d="M177.0,58.5 A27.0,27.0 0 0 1 199.9,48.6" stroke="#7cc85a" stroke-width="1.1" stroke-dasharray="4.6,0.8" stroke-dashoffset="3.9" fill="none" opacity="0.59"/>
<path d="M174.7,56.6 A30.0,30.0 0 0 1 200.1,45.6" stroke="#7cc85a" stroke-width="1.1" stroke-dasharray="4.6,0.8" stroke-dashoffset="1.6" fill="none" opacity="0.56"/>
<path d="M172.4,54.7 A33.0,33.0 0 0 1 200.3,42.6" stroke="#7cc85a" stroke-width="1.1" stroke-dasharray="4.6,0.8" stroke-dashoffset="3.3" fill="none" opacity="0.53"/>
<path d="M170.0,52.8 A36.0,36.0 0 0 1 200.5,39.6" stroke="#7cc85a" stroke-width="1.1" stroke-dasharray="4.6,0.8" stroke-dashoffset="1.0" fill="none" opacity="0.50"/>
<path d="M167.7,51.0 A39.0,39.0 0 0 1 200.7,36.6" stroke="#7cc85a" stroke-width="1.1" stroke-dasharray="4.6,0.8" stroke-dashoffset="2.7" fill="none" opacity="0.47"/>
<path d="M165.4,49.1 A42.0,42.0 0 0 1 200.9,33.6" stroke="#7cc85a" stroke-width="1.1" stroke-dasharray="4.6,0.8" stroke-dashoffset="0.4" fill="none" opacity="0.44"/>
<path d="M163.0,47.2 A45.0,45.0 0 0 1 201.1,30.6" stroke="#7cc85a" stroke-width="1.1" stroke-dasharray="4.6,0.8" stroke-dashoffset="2.1" fill="none" opacity="0.41"/>
<path d="M160.7,45.3 A48.0,48.0 0 0 1 201.3,27.6" stroke="#7cc85a" stroke-width="1.1" stroke-dasharray="4.6,0.8" stroke-dashoffset="3.8" fill="none" opacity="0.38"/>
<path d="M158.4,43.4 A51.0,51.0 0 0 1 201.6,24.6" stroke="#7cc85a" stroke-width="1.1" stroke-dasharray="4.6,0.8" stroke-dashoffset="1.5" fill="none" opacity="0.35"/>
<path d="M156.0,41.5 A54.0,54.0 0 0 1 201.8,21.6" stroke="#7cc85a" stroke-width="1.1" stroke-dasharray="4.6,0.8" stroke-dashoffset="3.2" fill="none" opacity="0.32"/>
<path d="M153.7,39.6 A57.0,57.0 0 0 1 202.0,18.6" stroke="#7cc85a" stroke-width="1.1" stroke-dasharray="4.6,0.8" stroke-dashoffset="0.9" fill="none" opacity="0.29"/>
<path d="M151.4,37.7 A60.0,60.0 0 0 1 202.2,15.6" stroke="#7cc85a" stroke-width="1.1" stroke-dasharray="4.6,0.8" stroke-dashoffset="2.6" fill="none" opacity="0.26"/>
<path d="M149.0,35.9 A63.0,63.0 0 0 1 202.4,12.7" stroke="#7cc85a" stroke-width="1.1" stroke-dasharray="4.6,0.8" stroke-dashoffset="0.3" fill="none" opacity="0.23"/>
<path d="M146.7,34.0 A66.0,66.0 0 0 1 202.6,9.7" stroke="#7cc85a" stroke-width="1.1" stroke-dasharray="4.6,0.8" stroke-dashoffset="2.0" fill="none" opacity="0.20"/>
<circle cx="198.5" cy="75.5" r="2.2" fill="#8ad45e"/>
<path d="M663.2,57.5 A5.0,5.0 0 0 1 667.8,57.6" stroke="#e0484c" stroke-width="1.0" stroke-dasharray="none" stroke-dashoffset="0.0" fill="none" opacity="0.95"/>
<path d="M662.0,55.1 A7.8,7.8 0 0 1 669.2,55.1" stroke="#e0484c" stroke-width="1.0" stroke-dasharray="none" stroke-dashoffset="1.7" fill="none" opacity="0.92"/>
<path d="M660.7,52.6 A10.6,10.6 0 0 1 670.5,52.6" stroke="#e0484c" stroke-width="1.0" stroke-dasharray="none" stroke-dashoffset="3.4" fill="none" opacity="0.90"/>
<path d="M659.4,50.1 A13.4,13.4 0 0 1 671.8,50.2" stroke="#e0484c" stroke-width="1.0" stroke-dasharray="2.6,1.2" stroke-dashoffset="1.1" fill="none" opacity="0.87"/>
<path d="M658.1,47.6 A16.2,16.2 0 0 1 673.1,47.7" stroke="#e0484c" stroke-width="1.0" stroke-dasharray="2.6,1.2" stroke-dashoffset="2.8" fill="none" opacity="0.85"/>
<path d="M656.9,45.1 A19.0,19.0 0 0 1 674.4,45.2" stroke="#e0484c" stroke-width="1.0" stroke-dasharray="2.6,1.2" stroke-dashoffset="0.5" fill="none" opacity="0.82"/>
<path d="M655.6,42.6 A21.8,21.8 0 0 1 675.7,42.8" stroke="#e0484c" stroke-width="1.0" stroke-dasharray="2.6,1.2" stroke-dashoffset="2.2" fill="none" opacity="0.79"/>
<path d="M654.3,40.1 A24.6,24.6 0 0 1 677.0,40.3" stroke="#e0484c" stroke-width="1.0" stroke-dasharray="2.6,1.2" stroke-dashoffset="3.9" fill="none" opacity="0.77"/>
<path d="M653.1,37.6 A27.4,27.4 0 0 1 678.4,37.8" stroke="#e0484c" stroke-width="1.0" stroke-dasharray="2.6,1.2" stroke-dashoffset="1.6" fill="none" opacity="0.74"/>
<path d="M651.8,35.1 A30.2,30.2 0 0 1 679.7,35.3" stroke="#e0484c" stroke-width="1.0" stroke-dasharray="2.6,1.2" stroke-dashoffset="3.3" fill="none" opacity="0.72"/>
<path d="M650.5,32.6 A33.0,33.0 0 0 1 681.0,32.9" stroke="#e0484c" stroke-width="1.0" stroke-dasharray="2.6,1.2" stroke-dashoffset="1.0" fill="none" opacity="0.69"/>
<path d="M649.2,30.1 A35.8,35.8 0 0 1 682.3,30.4" stroke="#e0484c" stroke-width="1.0" stroke-dasharray="2.6,1.2" stroke-dashoffset="2.7" fill="none" opacity="0.66"/>
<path d="M648.0,27.6 A38.6,38.6 0 0 1 683.6,27.9" stroke="#e0484c" stroke-width="1.0" stroke-dasharray="2.6,1.2" stroke-dashoffset="0.4" fill="none" opacity="0.64"/>
<path d="M646.7,25.1 A41.4,41.4 0 0 1 684.9,25.4" stroke="#e0484c" stroke-width="1.0" stroke-dasharray="2.6,1.2" stroke-dashoffset="2.1" fill="none" opacity="0.61"/>
<path d="M645.4,22.6 A44.2,44.2 0 0 1 686.3,23.0" stroke="#e0484c" stroke-width="1.0" stroke-dasharray="2.6,1.2" stroke-dashoffset="3.8" fill="none" opacity="0.59"/>
<path d="M644.2,20.1 A47.0,47.0 0 0 1 687.6,20.5" stroke="#e0484c" stroke-width="1.0" stroke-dasharray="2.6,1.2" stroke-dashoffset="1.5" fill="none" opacity="0.56"/>
<path d="M642.9,17.6 A49.8,49.8 0 0 1 688.9,18.0" stroke="#e0484c" stroke-width="1.0" stroke-dasharray="2.6,1.2" stroke-dashoffset="3.2" fill="none" opacity="0.53"/>
<path d="M641.6,15.1 A52.6,52.6 0 0 1 690.2,15.6" stroke="#e0484c" stroke-width="1.0" stroke-dasharray="2.6,1.2" stroke-dashoffset="0.9" fill="none" opacity="0.51"/>
<path d="M640.3,12.6 A55.4,55.4 0 0 1 691.5,13.1" stroke="#e0484c" stroke-width="1.0" stroke-dasharray="2.6,1.2" stroke-dashoffset="2.6" fill="none" opacity="0.48"/>
<path d="M639.1,10.1 A58.2,58.2 0 0 1 692.8,10.6" stroke="#e0484c" stroke-width="1.0" stroke-dasharray="2.6,1.2" stroke-dashoffset="0.3" fill="none" opacity="0.46"/>
<path d="M637.8,7.6 A61.0,61.0 0 0 1 694.1,8.1" stroke="#e0484c" stroke-width="1.0" stroke-dasharray="2.6,1.2" stroke-dashoffset="2.0" fill="none" opacity="0.43"/>
<path d="M636.5,5.2 A63.8,63.8 0 0 1 695.5,5.7" stroke="#e0484c" stroke-width="1.0" stroke-dasharray="2.6,1.2" stroke-dashoffset="3.7" fill="none" opacity="0.40"/>
<path d="M635.3,2.7 A66.6,66.6 0 0 1 696.8,3.2" stroke="#e0484c" stroke-width="1.0" stroke-dasharray="2.6,1.2" stroke-dashoffset="1.4" fill="none" opacity="0.38"/>
<path d="M634.0,0.2 A69.4,69.4 0 0 1 698.1,0.7" stroke="#e0484c" stroke-width="1.0" stroke-dasharray="2.6,1.2" stroke-dashoffset="3.1" fill="none" opacity="0.35"/>
<path d="M632.7,-2.3 A72.2,72.2 0 0 1 699.4,-1.7" stroke="#e0484c" stroke-width="1.0" stroke-dasharray="2.6,1.2" stroke-dashoffset="0.8" fill="none" opacity="0.33"/>
<path d="M631.5,-4.8 A75.0,75.0 0 0 1 700.7,-4.2" stroke="#e0484c" stroke-width="1.0" stroke-dasharray="2.6,1.2" stroke-dashoffset="2.5" fill="none" opacity="0.30"/>
<circle cx="665.5" cy="62.3" r="2.5" fill="#e23a3e"/>
<path d="M577.8,438.0 A7.0,7.0 0 0 1 577.2,444.2" stroke="#6abf45" stroke-width="1.1" stroke-dasharray="4.6,0.8" stroke-dashoffset="0.0" fill="none" opacity="1.00"/>
<path d="M581.1,436.7 A10.6,10.6 0 0 1 580.2,446.1" stroke="#6abf45" stroke-width="1.1" stroke-dasharray="4.6,0.8" stroke-dashoffset="1.7" fill="none" opacity="0.98"/>
<path d="M584.5,435.4 A14.1,14.1 0 0 1 583.3,448.0" stroke="#6abf45" stroke-width="1.1" stroke-dasharray="4.6,0.8" stroke-dashoffset="3.4" fill="none" opacity="0.96"/>
<path d="M587.8,434.2 A17.6,17.6 0 0 1 586.3,449.9" stroke="#6abf45" stroke-width="1.1" stroke-dasharray="4.6,0.8" stroke-dashoffset="1.1" fill="none" opacity="0.94"/>
<path d="M591.1,432.9 A21.2,21.2 0 0 1 589.3,451.7" stroke="#6abf45" stroke-width="1.1" stroke-dasharray="4.6,0.8" stroke-dashoffset="2.8" fill="none" opacity="0.92"/>
<path d="M594.4,431.6 A24.8,24.8 0 0 1 592.3,453.6" stroke="#6abf45" stroke-width="1.1" stroke-dasharray="4.6,0.8" stroke-dashoffset="0.5" fill="none" opacity="0.90"/>
<path d="M597.7,430.4 A28.3,28.3 0 0 1 595.3,455.5" stroke="#6abf45" stroke-width="1.1" stroke-dasharray="4.6,0.8" stroke-dashoffset="2.2" fill="none" opacity="0.88"/>
<path d="M601.0,429.1 A31.8,31.8 0 0 1 598.3,457.4" stroke="#6abf45" stroke-width="1.1" stroke-dasharray="4.6,0.8" stroke-dashoffset="3.9" fill="none" opacity="0.86"/>
<path d="M604.3,427.8 A35.4,35.4 0 0 1 601.3,459.3" stroke="#6abf45" stroke-width="1.1" stroke-dasharray="4.6,0.8" stroke-dashoffset="1.6" fill="none" opacity="0.84"/>
<path d="M607.7,426.5 A39.0,39.0 0 0 1 604.3,461.1" stroke="#6abf45" stroke-width="1.1" stroke-dasharray="4.6,0.8" stroke-dashoffset="3.3" fill="none" opacity="0.82"/>
<path d="M611.0,425.3 A42.5,42.5 0 0 1 607.3,463.0" stroke="#6abf45" stroke-width="1.1" stroke-dasharray="4.6,0.8" stroke-dashoffset="1.0" fill="none" opacity="0.81"/>
<path d="M614.3,424.0 A46.0,46.0 0 0 1 610.4,464.9" stroke="#6abf45" stroke-width="1.1" stroke-dasharray="4.6,0.8" stroke-dashoffset="2.7" fill="none" opacity="0.79"/>
<path d="M617.6,422.7 A49.6,49.6 0 0 1 613.4,466.8" stroke="#6abf45" stroke-width="1.1" stroke-dasharray="4.6,0.8" stroke-dashoffset="0.4" fill="none" opacity="0.77"/>
<path d="M620.9,421.5 A53.1,53.1 0 0 1 616.4,468.7" stroke="#6abf45" stroke-width="1.1" stroke-dasharray="4.6,0.8" stroke-dashoffset="2.1" fill="none" opacity="0.75"/>
<path d="M624.2,420.2 A56.7,56.7 0 0 1 619.4,470.5" stroke="#6abf45" stroke-width="1.1" stroke-dasharray="4.6,0.8" stroke-dashoffset="3.8" fill="none" opacity="0.73"/>
<path d="M627.5,418.9 A60.2,60.2 0 0 1 622.4,472.4" stroke="#6abf45" stroke-width="1.1" stroke-dasharray="4.6,0.8" stroke-dashoffset="1.5" fill="none" opacity="0.71"/>
<path d="M630.9,417.6 A63.8,63.8 0 0 1 625.4,474.3" stroke="#6abf45" stroke-width="1.1" stroke-dasharray="4.6,0.8" stroke-dashoffset="3.2" fill="none" opacity="0.69"/>
<path d="M634.2,416.4 A67.3,67.3 0 0 1 628.4,476.2" stroke="#6abf45" stroke-width="1.1" stroke-dasharray="4.6,0.8" stroke-dashoffset="0.9" fill="none" opacity="0.67"/>
<path d="M637.5,415.1 A70.9,70.9 0 0 1 631.4,478.1" stroke="#6abf45" stroke-width="1.1" stroke-dasharray="4.6,0.8" stroke-dashoffset="2.6" fill="none" opacity="0.65"/>
<path d="M640.8,413.8 A74.5,74.5 0 0 1 634.4,480.0" stroke="#6abf45" stroke-width="1.1" stroke-dasharray="4.6,0.8" stroke-dashoffset="0.3" fill="none" opacity="0.63"/>
<path d="M644.1,412.5 A78.0,78.0 0 0 1 637.4,481.8" stroke="#6abf45" stroke-width="1.1" stroke-dasharray="4.6,0.8" stroke-dashoffset="2.0" fill="none" opacity="0.61"/>
<path d="M647.4,411.3 A81.5,81.5 0 0 1 640.5,483.7" stroke="#6abf45" stroke-width="1.1" stroke-dasharray="4.6,0.8" stroke-dashoffset="3.7" fill="none" opacity="0.59"/>
<path d="M650.7,410.0 A85.1,85.1 0 0 1 643.5,485.6" stroke="#6abf45" stroke-width="1.1" stroke-dasharray="4.6,0.8" stroke-dashoffset="1.4" fill="none" opacity="0.57"/>
<path d="M654.1,408.7 A88.6,88.6 0 0 1 646.5,487.5" stroke="#6abf45" stroke-width="1.1" stroke-dasharray="4.6,0.8" stroke-dashoffset="3.1" fill="none" opacity="0.55"/>
<path d="M657.4,407.5 A92.2,92.2 0 0 1 649.5,489.4" stroke="#6abf45" stroke-width="1.1" stroke-dasharray="4.6,0.8" stroke-dashoffset="0.8" fill="none" opacity="0.53"/>
<path d="M660.7,406.2 A95.8,95.8 0 0 1 652.5,491.2" stroke="#6abf45" stroke-width="1.1" stroke-dasharray="4.6,0.8" stroke-dashoffset="2.5" fill="none" opacity="0.51"/>
<path d="M664.0,404.9 A99.3,99.3 0 0 1 655.5,493.1" stroke="#6abf45" stroke-width="1.1" stroke-dasharray="4.6,0.8" stroke-dashoffset="0.2" fill="none" opacity="0.49"/>
<path d="M667.3,403.6 A102.8,102.8 0 0 1 658.5,495.0" stroke="#6abf45" stroke-width="1.1" stroke-dasharray="4.6,0.8" stroke-dashoffset="1.9" fill="none" opacity="0.48"/>
<path d="M670.6,402.4 A106.4,106.4 0 0 1 661.5,496.9" stroke="#6abf45" stroke-width="1.1" stroke-dasharray="4.6,0.8" stroke-dashoffset="3.6" fill="none" opacity="0.46"/>
<path d="M673.9,401.1 A109.9,109.9 0 0 1 664.5,498.8" stroke="#6abf45" stroke-width="1.1" stroke-dasharray="4.6,0.8" stroke-dashoffset="1.3" fill="none" opacity="0.44"/>
<path d="M677.3,399.8 A113.5,113.5 0 0 1 667.6,500.6" stroke="#6abf45" stroke-width="1.1" stroke-dasharray="4.6,0.8" stroke-dashoffset="3.0" fill="none" opacity="0.42"/>
<path d="M680.6,398.6 A117.0,117.0 0 0 1 670.6,502.5" stroke="#6abf45" stroke-width="1.1" stroke-dasharray="4.6,0.8" stroke-dashoffset="0.7" fill="none" opacity="0.40"/>
<path d="M683.9,397.3 A120.6,120.6 0 0 1 673.6,504.4" stroke="#6abf45" stroke-width="1.1" stroke-dasharray="4.6,0.8" stroke-dashoffset="2.4" fill="none" opacity="0.38"/>
<path d="M687.2,396.0 A124.1,124.1 0 0 1 676.6,506.3" stroke="#6abf45" stroke-width="1.1" stroke-dasharray="4.6,0.8" stroke-dashoffset="0.1" fill="none" opacity="0.36"/>
<path d="M690.5,394.7 A127.7,127.7 0 0 1 679.6,508.2" stroke="#6abf45" stroke-width="1.1" stroke-dasharray="4.6,0.8" stroke-dashoffset="1.8" fill="none" opacity="0.34"/>
<path d="M693.8,393.5 A131.2,131.2 0 0 1 682.6,510.1" stroke="#6abf45" stroke-width="1.1" stroke-dasharray="4.6,0.8" stroke-dashoffset="3.5" fill="none" opacity="0.32"/>
<path d="M697.1,392.2 A134.8,134.8 0 0 1 685.6,511.9" stroke="#6abf45" stroke-width="1.1" stroke-dasharray="4.6,0.8" stroke-dashoffset="1.2" fill="none" opacity="0.30"/>
<circle cx="571.3" cy="440.3" r="3" fill="#6fcb4a"/>
<use href="#sensor" x="193" y="72"/>
<use href="#sensor" x="417.8" y="24.5"/>
<use href="#sensor" x="638.8" y="64.5"/>
<use href="#sensor" x="78.8" y="269.2"/>
<use href="#sensor" x="137.5" y="403.8"/>
<use href="#sensor" x="336.5" y="444"/>
<use href="#sensor" x="683.2" y="303.7"/>
<use href="#sensor" x="533" y="424.5"/>
<use href="#cont" x="495.5" y="125.4"/>
<use href="#cont" x="528" y="267"/>
<path d="M310.7,104.6 C304,113 296,116.5 290,116 C280,115 274.5,105 271.5,93 C267.5,77 266.5,62 259,48 C253,38 244,32 232.5,28.2" stroke="#e0474c" stroke-width="2" stroke-dasharray="4.5,3.2" fill="none" stroke-linecap="butt"/>
<path d="M232,34.5 L231.3,27.3 L238.8,26.4" stroke="#e0474c" stroke-width="2" fill="none"/>
<path d="M532.5,123 C520,110 512,92 524,76 C540,58 572,66 596,58 C620,50 630,36 637,18" stroke="#e0474c" stroke-width="2" stroke-dasharray="4.5,3.2" fill="none" stroke-linecap="butt"/>
<path d="M629.5,19.5 L639,14.5 L643,24" stroke="#e0474c" stroke-width="2.2" fill="none"/>
<path d="M573,279 C582,268 604,266 615,282 C628,300 622,330 634,352 C642,366 652,372 664,377" stroke="#e0474c" stroke-width="2" stroke-dasharray="4.5,3.2" fill="none" stroke-linecap="butt"/>
<path d="M659.5,369 L665.5,378 L655.5,382.5" stroke="#e0474c" stroke-width="2.2" fill="none"/>
<rect x="52.45" y="32.45" width="65.5" height="25.5" rx="12.75" fill="#ef3631"/>
<text x="85.2" y="50.300000000000004" font-size="14" font-weight="700" fill="#fff" stroke="#fff" stroke-width="0.45" text-anchor="middle" textLength="46.5" lengthAdjust="spacingAndGlyphs">INTERCEPT</text>
<text x="86.4" y="74" font-size="9.6" font-weight="700" fill="#111" text-anchor="middle">Hard Kill</text>
<rect x="701.85" y="10.350000000000001" width="65.5" height="25.5" rx="12.75" fill="#ef3631"/>
<text x="734.6" y="28.200000000000003" font-size="14" font-weight="700" fill="#fff" stroke="#fff" stroke-width="0.45" text-anchor="middle" textLength="46.5" lengthAdjust="spacingAndGlyphs">INTERCEPT</text>
<text x="735.1" y="52.2" font-size="9.6" font-weight="700" fill="#111" text-anchor="middle">Sonic</text>
<rect x="585.55" y="367.35" width="65.5" height="25.5" rx="12.75" fill="#ef3631"/>
<text x="618.3" y="385.20000000000005" font-size="14" font-weight="700" fill="#fff" stroke="#fff" stroke-width="0.45" text-anchor="middle" textLength="46.5" lengthAdjust="spacingAndGlyphs">INTERCEPT</text>
<text x="618.8" y="403.8" font-size="9.6" font-weight="700" fill="#111" text-anchor="middle">Track</text>
<text transform="translate(268.8,322) rotate(-16)" font-size="5.9" font-weight="700" fill="#111">Komut Kontrol</text>
<text transform="translate(280,327.6) rotate(-16)" font-size="5.9" font-weight="700" fill="#111">Merkezi</text>
<text transform="translate(127.6,436.4) rotate(22)" font-size="6.6" font-weight="700" fill="#111">Sensör</text>
<g filter="url(#blur1)"><ellipse cx="144" cy="10" rx="41" ry="38" fill="url(#gex)"/>
<polygon points="177.9,9.0 168.4,13.0 176.9,20.0 166.5,21.1 170.3,29.4 160.3,27.4 158.5,32.9 151.2,29.1 149.4,41.5 143.0,31.4 136.6,41.2 135.6,27.1 126.1,35.2 128.5,24.4 116.7,28.7 121.6,20.0 114.0,18.4 121.0,12.5 110.4,9.0 116.5,4.8 109.3,-1.9 124.0,-0.8 115.4,-11.7 129.0,-5.9 125.6,-17.9 135.6,-9.2 137.6,-18.0 143.0,-14.7 148.6,-19.2 150.6,-9.7 161.6,-19.8 160.1,-9.2 168.1,-9.7 166.6,-3.1 175.3,-1.5 168.0,5.1" fill="#e9a03a" opacity="0.7"/>
<ellipse cx="124" cy="28" rx="16" ry="12" fill="#c98a3c" opacity="0.5"/>
<ellipse cx="146" cy="8" rx="23" ry="19" fill="url(#gex2)"/></g>
<path d="M159.9,10.3L171.7,11.4M159.0,13.9L175.2,20.1M157.2,17.1L169.0,26.3M154.5,19.6L163.9,33.3M151.2,21.3L155.4,36.7M147.6,22.0L146.2,34.1M143.9,21.6L138.2,33.8M140.4,20.2L131.6,29.9M137.5,17.9L125.8,25.5M135.4,14.9L122.0,19.6M134.2,11.4L117.9,13.6M134.1,7.7L115.2,6.3M135.0,4.1L121.5,0.3M136.8,0.9L121.1,-8.3M139.5,-1.6L128.9,-11.7M142.8,-3.3L136.1,-14.8M146.4,-4.0L143.6,-19.7M150.1,-3.6L152.0,-16.6M153.6,-2.2L159.0,-12.8M156.5,0.1L166.1,-9.1M158.6,3.1L172.4,-3.7M159.8,6.6L170.3,4.7" stroke="#d97f22" stroke-width="1.1" opacity="0.35" fill="none"/>
<g transform="translate(198.5,14.6) scale(1.0)"><path d="M-6.5,-4.5 L-7,-8 M-12,1.3 L-17.7,-0.6 M8.6,-2.6 L16.8,-1.8 M5.2,4.3 L10.5,7.4" stroke="#1e2228" stroke-width="3" stroke-linecap="round"/><polygon points="-13.4,0.8 -7.2,-2.8 2,-8.7 9.8,-6.5 12.4,-2.4 11.6,1.6 8.6,3.2 0,6 -9.5,4.4" fill="#f3f3f3" stroke="#4a4e56" stroke-width="0.8" stroke-linejoin="round"/><polygon points="-9.8,4 2.6,4.8 2.6,11.4 -3,13.2 -9.8,10" fill="#1e2228"/><polygon points="2.6,5 7,3.6 7,8.6 2.6,11" fill="#1e2228" opacity="0.85"/><polygon points="-7.4,-0.6 2.2,-7.4 8.8,-5.8 3,1.2 -3.5,3.4" fill="#23272e"/><polygon points="-3,-1.6 2.6,-5.8 4.4,-5.3 -1.2,-1" fill="#ffffff" opacity="0.18"/><path d="M-16,-5.4 L2.8,-11.5 M6.9,8.9 L20.2,4.8" stroke="#1e2228" stroke-width="2.1" stroke-linecap="round"/><path d="M-19.6,-6.8 L-16,5 M17.4,-7.2 L16.6,4.6" stroke="#1e2228" stroke-width="2.9" stroke-linecap="round"/><circle cx="-6.9" cy="-8.3" r="1.7" fill="#1e2228"/><circle cx="11.6" cy="7.2" r="1.7" fill="#1e2228"/></g>
<g transform="translate(686.3,385.7) scale(1.0)"><path d="M-6.5,-4.5 L-7,-8 M-12,1.3 L-17.7,-0.6 M8.6,-2.6 L16.8,-1.8 M5.2,4.3 L10.5,7.4" stroke="#1e2228" stroke-width="3" stroke-linecap="round"/><polygon points="-13.4,0.8 -7.2,-2.8 2,-8.7 9.8,-6.5 12.4,-2.4 11.6,1.6 8.6,3.2 0,6 -9.5,4.4" fill="#f3f3f3" stroke="#4a4e56" stroke-width="0.8" stroke-linejoin="round"/><polygon points="-9.8,4 2.6,4.8 2.6,11.4 -3,13.2 -9.8,10" fill="#1e2228"/><polygon points="2.6,5 7,3.6 7,8.6 2.6,11" fill="#1e2228" opacity="0.85"/><polygon points="-7.4,-0.6 2.2,-7.4 8.8,-5.8 3,1.2 -3.5,3.4" fill="#23272e"/><polygon points="-3,-1.6 2.6,-5.8 4.4,-5.3 -1.2,-1" fill="#ffffff" opacity="0.18"/><path d="M-16,-5.4 L2.8,-11.5 M6.9,8.9 L20.2,4.8" stroke="#1e2228" stroke-width="2.1" stroke-linecap="round"/><path d="M-19.6,-6.8 L-16,5 M17.4,-7.2 L16.6,4.6" stroke="#1e2228" stroke-width="2.9" stroke-linecap="round"/><circle cx="-6.9" cy="-8.3" r="1.7" fill="#1e2228"/><circle cx="11.6" cy="7.2" r="1.7" fill="#1e2228"/></g>
<polygon points="99,0 116,0 115,5 108,9.5 101,6" fill="#de3f3c"/><path d="M88,0 L92,9.5 M93.5,3 L99,1 M116,2 L121,0" stroke="#8a8a92" stroke-width="1.8" stroke-linecap="round"/><polygon points="102,7 112,8.5 111,12 103,11" fill="#5a3a3c"/>
<g transform="translate(731,460) scale(1.18)"><path d="M-6.5,-4.5 L-7,-8 M-12,1.3 L-17.7,-0.6 M8.6,-2.6 L16.8,-1.8 M5.2,4.3 L10.5,7.4" stroke="#e23a36" stroke-width="3" stroke-linecap="round"/><polygon points="-13.4,0.8 -7.2,-2.8 2,-8.7 9.8,-6.5 12.4,-2.4 11.6,1.6 8.6,3.2 0,6 -9.5,4.4" fill="#ececee" stroke="#4a4e56" stroke-width="0.8" stroke-linejoin="round"/><polygon points="-9.8,4 2.6,4.8 2.6,11.4 -3,13.2 -9.8,10" fill="#55555c"/><polygon points="2.6,5 7,3.6 7,8.6 2.6,11" fill="#55555c" opacity="0.85"/><polygon points="-7.4,-0.6 2.2,-7.4 8.8,-5.8 3,1.2 -3.5,3.4" fill="#e23a36"/><polygon points="-3,-1.6 2.6,-5.8 4.4,-5.3 -1.2,-1" fill="#ffffff" opacity="0.18"/><path d="M-16,-5.4 L2.8,-11.5 M6.9,8.9 L20.2,4.8" stroke="#55555c" stroke-width="2.1" stroke-linecap="round"/><path d="M-19.6,-6.8 L-16,5 M17.4,-7.2 L16.6,4.6" stroke="#55555c" stroke-width="2.9" stroke-linecap="round"/><circle cx="-6.9" cy="-8.3" r="1.7" fill="#55555c"/><circle cx="11.6" cy="7.2" r="1.7" fill="#55555c"/></g>
</svg>
</body></html>
